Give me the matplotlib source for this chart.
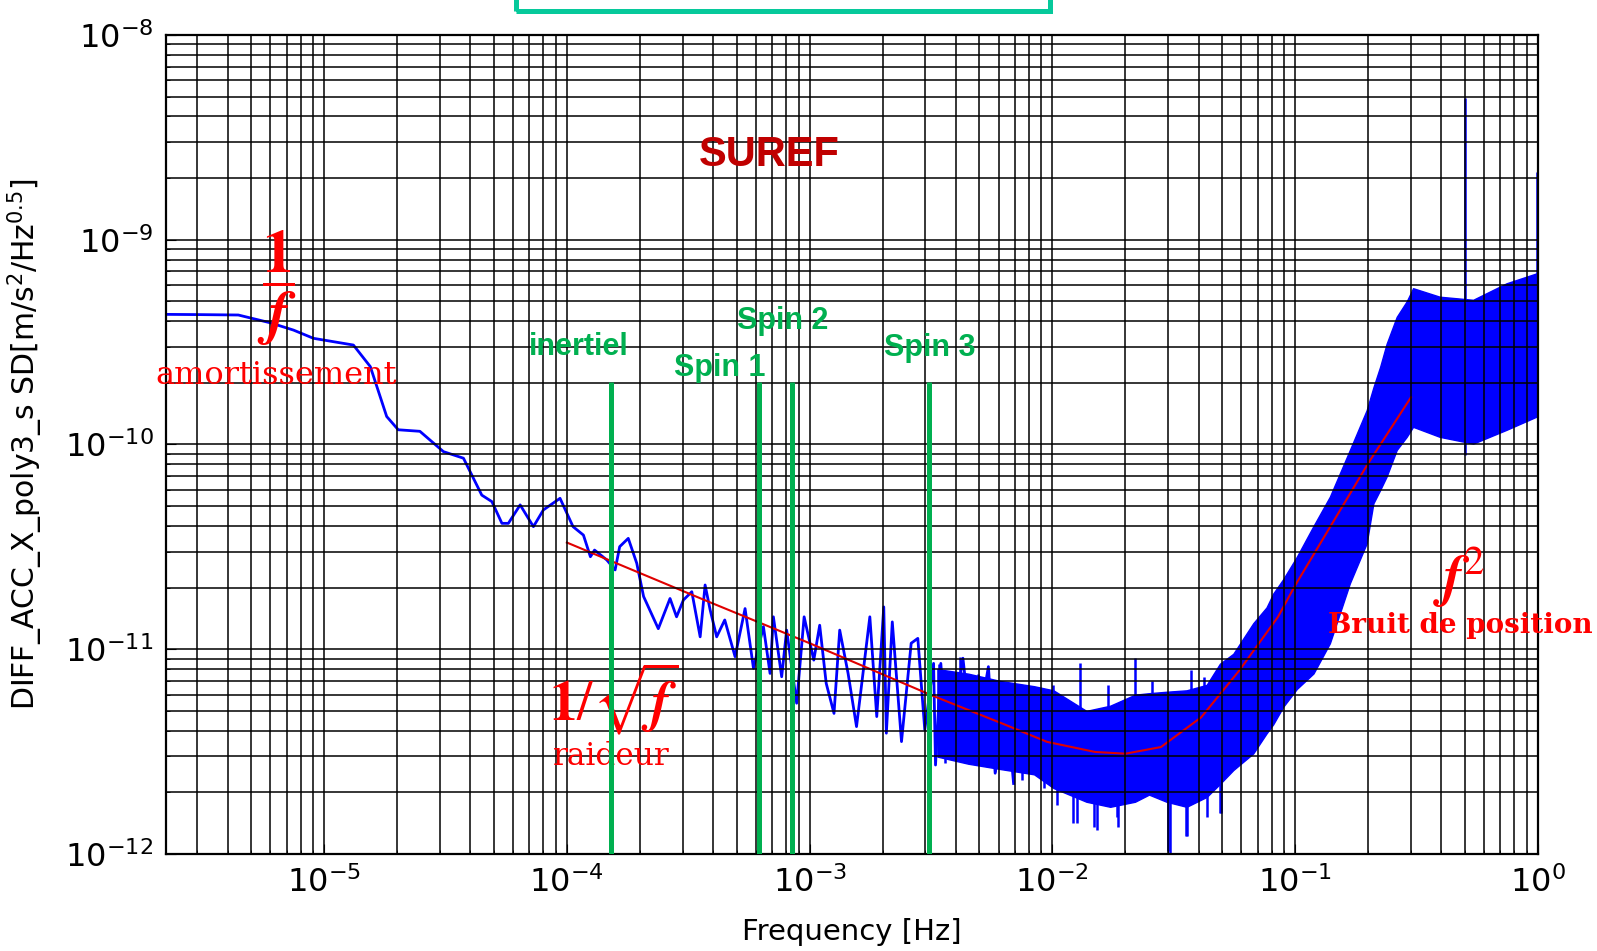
import matplotlib
matplotlib.use('Agg')
import matplotlib.pyplot as plt
from matplotlib.patches import Rectangle

plt.rcParams['axes.unicode_minus'] = False

# measured spectrum, low frequency part (single trace)
psd_freq = [2.23e-6, 3.0e-6, 4.43e-6, 6.0e-6, 7.48e-6, 9.04e-6, 1.32e-5, 1.55e-5, 1.81e-5,
            2.02e-5, 2.48e-5, 3.10e-5, 3.75e-5, 4.46e-5, 4.91e-5, 5.40e-5, 5.74e-5, 6.42e-5,
            7.28e-5, 8.0e-5, 9.37e-5, 1.06e-4, 1.17e-4, 1.25e-4, 1.30e-4, 1.46e-4, 1.58e-4,
            1.65e-4, 1.79e-4, 1.94e-4, 2.07e-4, 2.38e-4, 2.66e-4, 2.83e-4, 3.02e-4, 3.27e-4,
            3.54e-4, 3.71e-4, 3.89e-4, 4.14e-4, 4.47e-4, 4.93e-4, 5.42e-4, 5.87e-4, 6.45e-4,
            6.87e-4, 7.09e-4, 7.67e-4, 8.04e-4, 8.84e-4, 9.49e-4, 1.04e-3, 1.10e-3, 1.17e-3,
            1.26e-3, 1.33e-3, 1.44e-3, 1.56e-3, 1.77e-3, 1.89e-3, 2.02e-3, 2.07e-3, 2.19e-3,
            2.39e-3, 2.62e-3, 2.79e-3, 2.98e-3, 3.24e-3, 3.30e-3, 3.47e-3, 3.71e-3, 4.28e-3,
            4.73e-3, 5.45e-3, 5.81e-3, 6.38e-3, 6.92e-3]
psd_asd = [4.32e-10, 4.31e-10, 4.29e-10, 3.93e-10, 3.62e-10, 3.30e-10, 3.06e-10, 2.40e-10, 1.37e-10,
           1.18e-10, 1.16e-10, 9.23e-11, 8.57e-11, 5.66e-11, 5.26e-11, 4.12e-11, 4.12e-11, 5.07e-11,
           3.97e-11, 4.79e-11, 5.46e-11, 3.97e-11, 3.61e-11, 2.83e-11, 3.05e-11, 2.73e-11, 2.44e-11,
           3.17e-11, 3.48e-11, 2.63e-11, 1.81e-11, 1.26e-11, 1.77e-11, 1.44e-11, 1.74e-11, 1.91e-11,
           1.15e-11, 2.06e-11, 1.56e-11, 1.15e-11, 1.39e-11, 9.2e-12, 1.58e-11, 8.07e-12, 1.29e-11,
           7.62e-12, 1.44e-11, 7.34e-12, 1.24e-11, 5.45e-12, 1.44e-11, 8.85e-12, 1.31e-11, 6.82e-12,
           4.86e-12, 1.24e-11, 7.62e-12, 4.19e-12, 1.44e-11, 4.69e-12, 1.61e-11, 3.89e-12, 1.36e-11,
           3.54e-12, 1.07e-11, 1.13e-11, 4.04e-12, 8.53e-12, 2.72e-12, 8.53e-12, 2.99e-12, 9.04e-12,
           3.10e-12, 8.22e-12, 2.48e-12, 6.56e-12, 2.21e-12]

# dense part of the spectrum: lower / upper edge of the noise band
band_freq = [3.36e-3, 4.5e-3, 6.1e-3, 8.4e-3, 1.01e-2, 1.38e-2, 1.73e-2, 2.19e-2, 2.5e-2, 2.95e-2,
             3.57e-2, 4.32e-2, 4.9e-2, 5.56e-2, 6.72e-2, 7.62e-2, 8.12e-2, 8.93e-2, 0.1016, 0.119,
             0.139, 0.168, 0.197, 0.21, 0.224, 0.238, 0.262, 0.288, 0.306, 0.394, 0.541, 0.743, 0.99]
band_low = [2.99e-12, 2.76e-12, 2.6e-12, 2.45e-12, 2.1e-12, 1.8e-12, 1.7e-12, 1.8e-12, 1.95e-12, 1.8e-12,
            1.7e-12, 1.9e-12, 2.2e-12, 2.57e-12, 3.1e-12, 3.88e-12, 4.3e-12, 5.24e-12, 6.4e-12, 7.62e-12,
            1.07e-11, 2.1e-11, 3.29e-11, 5.16e-11, 6.0e-11, 6.97e-11, 9.4e-11, 1.09e-10, 1.22e-10, 1.09e-10,
            1.01e-10, 1.18e-10, 1.37e-10]
band_high = [8.0e-12, 7.6e-12, 7.0e-12, 6.6e-12, 6.3e-12, 5.0e-12, 5.3e-12, 6.0e-12, 6.1e-12, 6.2e-12,
             6.3e-12, 6.7e-12, 8.5e-12, 9.5e-12, 1.34e-11, 1.6e-11, 1.87e-11, 2.2e-11, 2.83e-11, 4.0e-11,
             5.56e-11, 9.4e-11, 1.47e-10, 1.9e-10, 2.4e-10, 3.1e-10, 4.2e-10, 5.0e-10, 5.8e-10, 5.27e-10,
             5.09e-10, 6.13e-10, 6.86e-10]

# isolated spikes sticking out of the band
spike_freq = [3.42e-3, 3.61e-3, 4.16e-3, 4.92e-3, 5.8e-3, 6.45e-3, 6.9e-3, 7.47e-3, 9.2e-3, 1.01e-2,
              1.04e-2, 1.22e-2, 1.26e-2, 1.30e-2, 1.48e-2, 1.52e-2, 1.69e-2, 1.84e-2, 1.86e-2, 2.19e-2,
              2.56e-2, 3.0e-2, 3.05e-2, 3.55e-2, 3.57e-2, 3.74e-2, 4.2e-2, 4.32e-2, 4.92e-2, 4.97e-2,
              0.5, 0.99]
spike_low = [3.5e-12, 2.77e-12, 3.5e-12, 3.5e-12, 2.52e-12, 3.5e-12, 2.25e-12, 2.3e-12, 2.09e-12, 3.0e-12,
             1.74e-12, 1.41e-12, 1.41e-12, 3.0e-12, 1.36e-12, 1.31e-12, 3.0e-12, 1.52e-12, 1.36e-12, 3.0e-12,
             3.0e-12, 1.03e-12, 1.0e-12, 1.23e-12, 1.22e-12, 3.0e-12, 3.0e-12, 1.52e-12, 1.58e-12, 1.58e-12,
             8.9e-11, 1.4e-10]
spike_high = [8.5e-12, 6e-12, 9.2e-12, 7.6e-12, 6e-12, 6.83e-12, 6e-12, 6e-12, 6e-12, 6.7e-12,
              5e-12, 5e-12, 5e-12, 8.53e-12, 5e-12, 5e-12, 6.7e-12, 5e-12, 5e-12, 9.04e-12,
              7.0e-12, 5e-12, 5e-12, 5e-12, 5e-12, 7.9e-12, 7.3e-12, 6e-12, 7e-12, 7e-12,
              4.9e-9, 2.15e-9]

# fitted noise model
fit_freq = [1.0e-4, 3.6e-4, 1.0e-3, 3.2e-3, 6.3e-3, 9.5e-3, 1.5e-2, 2.0e-2, 2.8e-2, 4.1e-2,
            5.9e-2, 8.5e-2, 0.1, 0.2, 0.3]
fit_asd = [3.32e-11, 1.76e-11, 1.07e-11, 5.94e-12, 4.31e-12, 3.53e-12, 3.15e-12, 3.09e-12, 3.33e-12, 4.65e-12,
           7.9e-12, 1.44e-11, 2.05e-11, 8.1e-11, 1.7e-10]

# spin / inertial frequencies
marker_names = ['inertiel', 'Spin 1', 'Spin 2', 'Spin 3']
marker_freq = [1.52e-4, 6.19e-4, 8.47e-4, 3.09e-3]

GREEN = '#00B050'
RED = '#FF0000'
BLUE = '#0000FF'

fig = plt.figure(figsize=(15.97, 9.51), dpi=100)
ax = fig.add_axes([0.1039, 0.1020, 0.8591, 0.8612])
ax.set_xscale('log')
ax.set_yscale('log')
ax.set_xlim(2.23e-6, 1.0)
ax.set_ylim(1e-12, 1e-8)

ax.fill_between(band_freq, band_low, band_high, color=BLUE, lw=1.0, edgecolor=BLUE, zorder=1)
ax.vlines(spike_freq, spike_low, spike_high, color=BLUE, lw=1.8, zorder=1.5)
ax.plot(psd_freq, psd_asd, color=BLUE, lw=2.0, zorder=1.6)
ax.plot(fit_freq, fit_asd, color='#E00000', lw=1.5, zorder=1.8)

ax.grid(True, which='both', color='k', lw=1.1, ls='-')
ax.set_axisbelow(False)
for sp in ax.spines.values():
    sp.set_linewidth(1.6)
    sp.set_zorder(2.6)
ax.tick_params(which='both', direction='in', labelsize=23, pad=9)
ax.tick_params(which='major', length=7)
ax.tick_params(which='minor', length=3)

ax.set_xlabel('Frequency [Hz]', fontsize=21)
ax.xaxis.set_label_coords(0.5, -0.078)
ax.set_ylabel(r'DIFF_ACC_X_poly3_s SD$\left[\mathrm{m/s^2/Hz^{0.5}}\right]$', fontsize=21.5)
ax.yaxis.set_label_coords(-0.088, 0.5)

# green markers
ax.vlines(marker_freq, 1e-12, 2.03e-10, color=GREEN, lw=3.6, zorder=5)
label_xy = [(1.12e-4, 2.99e-10), (4.28e-4, 2.36e-10), (7.76e-4, 4.03e-10), (3.13e-3, 2.96e-10)]
for name, (fx, fy) in zip(marker_names, label_xy):
    ax.text(fx, fy, name, color=GREEN, fontsize=22, fontweight='bold',
            family='Liberation Sans', ha='center', va='center', zorder=6)

ax.text(6.8e-4, 2.6e-9, 'SUREF', color='#C00000', fontsize=30, fontweight='bold',
        family='Liberation Sans', ha='center', va='center', zorder=6)

# red annotations
ax.text(6.37e-6, 5.81e-10, r'$\dfrac{\mathbf{1}}{\boldsymbol{f}}$', color=RED, fontsize=44,
        math_fontfamily='stix', ha='center', va='center', zorder=4)
ax.text(6.37e-6, 2.18e-10, 'amortissement', color=RED, fontsize=23, family='DejaVu Serif',
        ha='center', va='center', zorder=4, clip_on=False)
ax.text(1.55e-4, 5.71e-12, r'$\mathbf{1}/\sqrt{\boldsymbol{f}}$', color=RED, fontsize=40,
        math_fontfamily='stix', ha='center', va='center', zorder=4)
ax.text(1.53e-4, 3.01e-12, 'raideur', color=RED, fontsize=22.5, family='DejaVu Serif',
        ha='center', va='center', zorder=4)
ax.text(0.473, 2.25e-11, r'$\boldsymbol{f}^{2}$', color=RED, fontsize=42,
        math_fontfamily='stix', ha='center', va='center', zorder=4)
ax.text(0.477, 1.3e-11, 'Bruit de position', color=RED, fontsize=20, fontweight='bold',
        family='DejaVu Serif', ha='center', va='center', zorder=4, clip_on=False)

# frame of the slide box cut at the top
fig.patches.append(Rectangle((515.6 / 1597, 1 - 11 / 951), (1049.5 - 515.6) / 1597, 0.05,
                             transform=fig.transFigure, fill=False, edgecolor='#06C99B', lw=3.6))

fig.savefig('out.png', dpi=100)
